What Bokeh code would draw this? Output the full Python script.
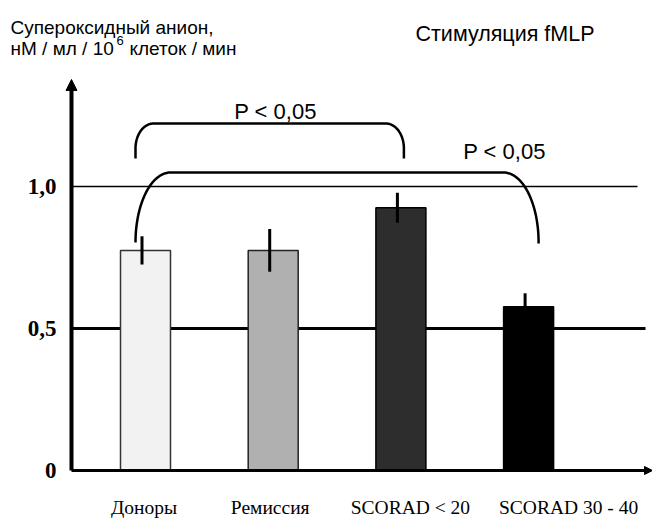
import numpy as np
from bokeh.plotting import figure
from bokeh.models import Range1d, FixedTicker, Label, Arrow, NormalHead
from bokeh.embed import file_html
from bokeh.resources import INLINE

# ---------------- data ----------------
categories = ["Доноры", "Ремиссия", "SCORAD < 20", "SCORAD 30 - 40"]
means = [0.775, 0.775, 0.925, 0.577]
errors = [0.050, 0.075, 0.053, 0.047]
bar_colors = ["#f2f2f2", "#b0b0b0", "#2d2d2d", "#000000"]
bar_line_colors = ["#333333", "#222222", "#000000", "#000000"]
y_ticks = [0, 0.5, 1.0]
y_tick_labels = ["0", "0,5", "1,0"]
p_text = "P < 0,05"
comparisons = [(0, 2), (0, 3)]
units_line1 = "Супероксидный анион,"
units_line2a = "нМ / мл / 10"
units_sup = "6"
units_line2b = "клеток  / мин"
stim_title = "Стимуляция fMLP"

# ---------------- layout (pixels) ----------------
W, H = 652, 519
PX_X = 127.7          # pixels per category step
PX_Y = 284.0          # pixels per value unit
BAR0_PX = 145         # first bar centre (page x)
ZERO_PX = 470         # value 0 (page y)
AXIS_PX = 71          # y axis (page x)


def fx(px):
    return (px - BAR0_PX) / PX_X


def fy(py):
    return (ZERO_PX - py) / PX_Y


p = figure(width=W, height=H, output_backend="svg", toolbar_location=None,
           x_range=Range1d(fx(0), fx(W)), y_range=Range1d(fy(H), fy(0)),
           min_border=0, outline_line_color=None)
p.grid.visible = False
p.background_fill_color = "white"
p.border_fill_color = "white"

idx = np.arange(len(categories))
m = np.array(means)
e = np.array(errors)
XA = fx(AXIS_PX)

# reference lines
p.segment(x0=[XA], y0=[0.5], x1=[fx(645)], y1=[0.5], line_color="black", line_width=3)
p.segment(x0=[XA], y0=[1.0], x1=[fx(637)], y1=[1.0], line_color="black", line_width=1.3)

# bars
p.vbar(x=idx, top=m, bottom=0, width=50 / PX_X, fill_color=bar_colors,
       line_color=bar_line_colors, line_width=1.5)

# error bars
ex = idx - 3.5 / PX_X
p.segment(x0=ex, y0=m - e, x1=ex, y1=m + e, line_color="black", line_width=3)

# significance brackets
brackets = [
    dict(dl=-10, dr=3, top=fy(123), bot_l=fy(158), bot_r=fy(158), rx=18, ry=25,
         tx=fx(275), ty=fy(111)),
    dict(dl=-10, dr=10, top=fy(172), bot_l=fy(242), bot_r=fy(243), rx=35, ry=70,
         tx=fx(504), ty=fy(151)),
]
for (i, j), b in zip(comparisons, brackets):
    xl = i + b["dl"] / PX_X
    xr = j + b["dr"] / PX_X
    rxd = b["rx"] / PX_X
    ryd = b["ry"] / PX_Y
    cy = b["top"] - ryd
    t1 = np.linspace(np.pi, np.pi / 2, 30)
    t2 = np.linspace(np.pi / 2, 0, 30)
    xs = np.concatenate([[xl], xl + rxd + rxd * np.cos(t1),
                         xr - rxd + rxd * np.cos(t2), [xr]])
    ys = np.concatenate([[b["bot_l"]], cy + ryd * np.sin(t1),
                         cy + ryd * np.sin(t2), [b["bot_r"]]])
    p.line(xs, ys, line_color="black", line_width=2.5)
    p.add_layout(Label(x=b["tx"], y=b["ty"], text=p_text, text_align="center",
                       text_baseline="alphabetic", text_font="Liberation Sans",
                       text_font_size="22px", text_color="black"))

# axes arrows
p.add_layout(Arrow(x_start=XA, y_start=0, x_end=XA, y_end=fy(79), line_width=4,
                   line_color="black",
                   end=NormalHead(size=11, fill_color="black", line_color="black")))
p.add_layout(Arrow(x_start=XA, y_start=0, x_end=fx(W), y_end=0, line_width=3,
                   line_color="black",
                   end=NormalHead(size=8, fill_color="black", line_color="black")))

# y axis (fixed at the arrow)
ya = p.yaxis[0]
ya.fixed_location = XA
ya.ticker = FixedTicker(ticks=y_ticks)
ya.major_label_overrides = {t: l for t, l in zip(y_ticks, y_tick_labels)}
ya.axis_line_color = None
ya.major_tick_line_color = None
ya.minor_tick_line_color = None
ya.major_label_standoff = 9
ya.major_label_text_font = "Liberation Serif"
ya.major_label_text_font_style = "bold"
ya.major_label_text_font_size = "23px"
ya.major_label_text_color = "black"

# x axis (fixed at zero)
label_offsets_px = [-1.5, -3, 9.5, 40]
x_ticks = [round(float(i + o / PX_X), 4) for i, o in zip(idx, label_offsets_px)]
xa = p.xaxis[0]
xa.fixed_location = 0
xa.ticker = FixedTicker(ticks=x_ticks)
xa.major_label_overrides = {t: c for t, c in zip(x_ticks, categories)}
xa.axis_line_color = None
xa.major_tick_line_color = None
xa.minor_tick_line_color = None
xa.major_label_standoff = 20
xa.major_label_text_font = "Liberation Serif"
xa.major_label_text_font_size = "19.5px"
xa.major_label_text_color = "black"


# titles
def add_text(px, py, text, size):
    p.add_layout(Label(x=fx(px), y=fy(py), text=text, text_align="left",
                       text_baseline="alphabetic", text_font="Liberation Sans",
                       text_font_size=size, text_color="black"))


add_text(10, 27, units_line1, "19px")
add_text(10, 48, units_line2a, "19px")
add_text(116, 40, units_sup, "13px")
add_text(129, 48, units_line2b, "19px")
add_text(415, 33, stim_title, "21.5px")

open("out.html", "w").write(file_html(p, INLINE))
